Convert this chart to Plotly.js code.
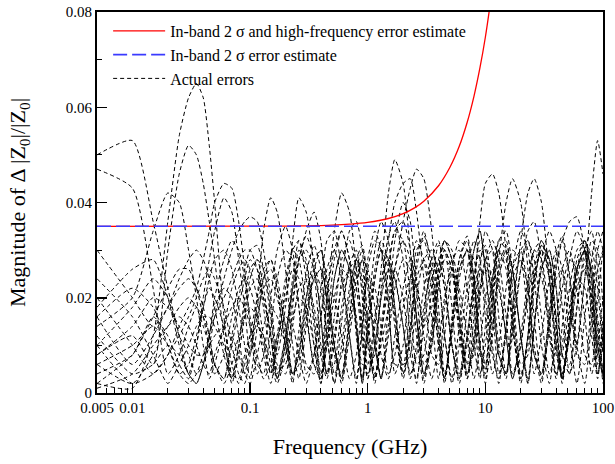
<!DOCTYPE html>
<html>
<head>
<meta charset="utf-8">
<script src="https://cdn.plot.ly/plotly-3.0.1.min.js"></script>
<style>html,body{margin:0;padding:0;background:#fff;}#chart{width:615px;height:464px;}</style>
</head>
<body>
<div id="chart"></div>
<script>
// Frequency grid (GHz) shared by the "actual error" curves
const freqGHz = [0.005,0.01,0.015,0.02,0.025,0.03,0.035,0.04,0.045,0.05,0.06,0.07,0.08,0.09,
  0.1,0.115,0.13,0.15,0.17,0.2,0.23,0.26,0.3,0.35,0.4,0.45,0.52,0.6,0.7,0.8,0.9,1.0,
  1.15,1.3,1.5,1.7,2.0,2.3,2.6,3.0,3.5,4.0,4.5,5.2,6.0,7.0,8.0,9.0,10,
  11.5,13,15,17,20,23,26,30,35,40,45,52,60,70,80,90,100];

// Actual errors (magnitude of delta|Z0|/|Z0|)
const err01 = [.050,.053,.036,.022,.012,.004,.010,.018,.024,.028,.030,.026,.018,.010,
  .003,.014,.024,.028,.022,.010,.002,.013,.025,.031,.026,.012,.002,.015,.027,.030,.020,.006,
  .008,.022,.033,.036,.028,.012,.002,.016,.028,.032,.024,.010,.003,.018,.030,.034,.026,
  .010,.002,.014,.026,.030,.022,.008,.004,.017,.029,.033,.025,.010,.002,.015,.026,.030];
const err02 = [.047,.043,.022,.004,.008,.014,.018,.016,.012,.006,.003,.012,.020,.026,
  .030,.031,.026,.016,.005,.006,.018,.028,.033,.028,.016,.004,.010,.024,.034,.036,.030,.014,
  .003,.012,.026,.034,.032,.020,.006,.008,.022,.031,.030,.018,.004,.010,.024,.032,.030,
  .018,.004,.012,.026,.034,.030,.016,.003,.014,.027,.032,.024,.008,.006,.020,.030,.034];
const err03 = [.002,.001,.012,.036,.054,.062,.065,.062,.052,.040,.016,.003,.010,.020,
  .026,.028,.022,.012,.003,.010,.022,.030,.027,.014,.003,.014,.028,.034,.028,.012,.002,.016,
  .030,.036,.032,.018,.004,.012,.026,.033,.028,.014,.003,.014,.028,.033,.024,.010,.004,
  .018,.030,.032,.022,.006,.008,.022,.031,.028,.014,.002,.014,.026,.030,.020,.006,.012];
const err04 = [.008,.012,.006,.030,.046,.052,.050,.044,.036,.028,.012,.002,.008,.016,
  .022,.024,.020,.012,.004,.012,.024,.032,.028,.016,.004,.010,.024,.030,.026,.014,.003,.014,
  .026,.032,.028,.016,.004,.014,.028,.034,.026,.012,.002,.014,.026,.030,.022,.008,.006,
  .020,.030,.028,.016,.003,.012,.024,.030,.024,.010,.003,.016,.028,.032,.024,.008,.004];
const err05 = [.014,.020,.034,.042,.040,.030,.020,.010,.003,.006,.014,.022,.026,.028,
  .026,.020,.012,.004,.010,.022,.030,.032,.024,.010,.002,.012,.024,.030,.026,.014,.002,.012,
  .024,.030,.026,.014,.003,.012,.024,.028,.022,.010,.003,.016,.028,.032,.024,.010,.002,
  .014,.026,.031,.026,.012,.002,.014,.026,.030,.022,.008,.004,.018,.030,.034,.026,.010];
const err06 = [.020,.010,.004,.008,.014,.018,.022,.028,.034,.040,.044,.043,.036,.026,
  .014,.004,.008,.020,.030,.035,.030,.018,.004,.008,.022,.032,.034,.026,.012,.002,.014,.028,
  .034,.030,.018,.004,.010,.024,.032,.028,.016,.003,.012,.026,.032,.030,.018,.004,.010,
  .024,.032,.030,.018,.004,.010,.024,.031,.028,.016,.003,.012,.024,.030,.026,.012,.002];
const err07 = [.004,.008,.016,.012,.006,.003,.010,.020,.028,.034,.041,.038,.028,.018,
  .008,.020,.034,.041,.038,.026,.010,.003,.014,.026,.030,.024,.010,.003,.016,.028,.031,.024,
  .010,.003,.018,.032,.040,.036,.022,.006,.010,.024,.030,.026,.012,.003,.016,.028,.031,
  .022,.008,.004,.018,.030,.032,.024,.010,.002,.014,.026,.030,.022,.008,.006,.020,.030];
const err08 = [.010,.018,.024,.020,.012,.008,.004,.006,.010,.016,.024,.030,.034,.036,
  .037,.036,.030,.020,.008,.018,.032,.041,.038,.026,.010,.004,.016,.028,.032,.026,.012,.003,
  .014,.026,.042,.049,.044,.030,.012,.002,.012,.026,.032,.028,.016,.004,.012,.026,.034,
  .030,.016,.004,.012,.026,.034,.036,.028,.012,.003,.014,.028,.034,.030,.018,.004,.010];
const err09 = [.016,.006,.012,.018,.022,.024,.022,.018,.012,.006,.003,.010,.018,.024,
  .028,.026,.020,.012,.003,.010,.020,.028,.034,.038,.032,.018,.004,.008,.020,.028,.026,.016,
  .004,.010,.018,.026,.036,.043,.047,.045,.034,.018,.004,.012,.024,.030,.028,.018,.005,
  .022,.032,.034,.026,.012,.002,.014,.028,.034,.030,.018,.004,.010,.024,.032,.030,.018];
const err10 = [.006,.002,.008,.014,.018,.020,.018,.014,.010,.004,.008,.016,.022,.024,
  .022,.016,.008,.002,.010,.020,.026,.024,.016,.006,.003,.020,.034,.042,.038,.026,.014,.004,
  .010,.020,.032,.040,.044,.045,.038,.024,.008,.006,.018,.028,.030,.022,.010,.003,.014,
  .024,.030,.026,.014,.002,.012,.026,.032,.028,.014,.003,.014,.026,.030,.022,.008,.014];
const err11 = [.012,.004,.006,.010,.008,.004,.002,.006,.012,.018,.022,.020,.012,.004,
  .010,.018,.024,.026,.022,.014,.004,.008,.018,.024,.026,.020,.010,.002,.012,.022,.028,.026,
  .018,.008,.003,.012,.022,.028,.024,.014,.018,.028,.032,.028,.014,.006,.022,.036,.044,
  .046,.042,.030,.014,.003,.012,.024,.030,.026,.014,.004,.012,.022,.026,.020,.010,.004];
const err12 = [.002,.008,.016,.022,.026,.026,.022,.016,.010,.006,.002,.006,.012,.016,
  .018,.016,.010,.004,.012,.024,.030,.028,.018,.006,.008,.020,.030,.034,.028,.014,.003,.012,
  .024,.030,.028,.018,.006,.008,.020,.028,.030,.024,.012,.002,.010,.022,.030,.034,.026,
  .014,.028,.040,.045,.040,.026,.008,.004,.016,.024,.026,.018,.010,.024,.042,.053,.046];
const err13 = [.024,.016,.008,.002,.006,.010,.014,.016,.016,.014,.010,.004,.003,.008,
  .012,.014,.012,.006,.002,.008,.016,.020,.018,.010,.002,.010,.020,.026,.024,.016,.006,.006,
  .016,.024,.028,.024,.014,.004,.008,.018,.026,.028,.022,.010,.002,.012,.024,.030,.028,
  .020,.008,.004,.016,.032,.042,.045,.040,.024,.008,.004,.016,.026,.030,.026,.014,.004];
const err14 = [.008,.014,.020,.018,.014,.010,.008,.008,.010,.012,.014,.012,.008,.004,
  .002,.008,.014,.018,.016,.010,.003,.010,.020,.026,.022,.012,.002,.010,.022,.028,.024,.012,
  .002,.012,.022,.026,.020,.008,.003,.014,.024,.028,.022,.010,.003,.012,.022,.026,.020,
  .008,.003,.014,.024,.028,.022,.010,.002,.014,.026,.032,.036,.037,.030,.016,.004,.012];
const err15 = [.018,.026,.028,.020,.010,.004,.002,.006,.012,.020,.028,.032,.030,.024,
  .016,.006,.004,.014,.024,.030,.028,.018,.006,.004,.016,.026,.030,.024,.012,.003,.014,.026,
  .032,.030,.020,.006,.006,.020,.030,.032,.024,.010,.003,.014,.026,.030,.024,.010,.003,
  .012,.024,.030,.026,.012,.003,.014,.026,.030,.022,.008,.006,.018,.028,.030,.022,.008];
const err16 = [.030,.020,.014,.018,.024,.028,.030,.028,.024,.018,.008,.003,.010,.018,
  .024,.028,.026,.018,.006,.004,.014,.022,.024,.018,.008,.003,.012,.022,.026,.022,.010,.003,
  .010,.020,.026,.024,.014,.003,.010,.022,.028,.024,.012,.003,.014,.026,.032,.028,.016,
  .004,.010,.022,.030,.028,.016,.004,.012,.024,.030,.026,.012,.002,.016,.028,.034,.030];
const err17 = [.001,.004,.010,.014,.016,.014,.010,.006,.004,.008,.014,.018,.020,.018,
  .014,.008,.003,.006,.012,.016,.014,.008,.002,.008,.016,.022,.020,.012,.003,.008,.018,.024,
  .022,.014,.004,.008,.018,.024,.022,.012,.003,.010,.020,.026,.022,.012,.003,.010,.020,
  .026,.022,.012,.003,.010,.020,.026,.024,.014,.004,.008,.018,.024,.022,.012,.003,.016];
const err18 = [.010,.002,.004,.008,.012,.016,.020,.024,.026,.024,.018,.010,.004,.002,
  .008,.016,.022,.024,.020,.012,.004,.006,.016,.024,.026,.020,.008,.004,.016,.026,.030,.024,
  .012,.003,.014,.026,.032,.028,.016,.004,.010,.022,.028,.026,.016,.004,.010,.022,.028,
  .030,.024,.012,.003,.012,.024,.030,.028,.016,.004,.010,.022,.030,.032,.024,.010,.003];
const err19 = [.006,.010,.014,.010,.004,.002,.004,.008,.012,.016,.020,.024,.028,.030,
  .030,.026,.018,.008,.003,.012,.022,.028,.030,.026,.016,.004,.006,.018,.026,.028,.022,.010,
  .003,.014,.026,.034,.036,.030,.016,.003,.014,.026,.032,.030,.020,.006,.008,.020,.028,
  .032,.028,.016,.004,.010,.022,.030,.032,.024,.010,.003,.014,.026,.032,.028,.016,.004];
const err20 = [.016,.022,.018,.010,.004,.006,.012,.018,.022,.020,.014,.006,.002,.006,
  .012,.020,.026,.028,.024,.014,.004,.008,.020,.028,.030,.022,.010,.003,.014,.024,.028,.022,
  .010,.003,.012,.022,.028,.026,.016,.004,.012,.024,.030,.026,.014,.003,.010,.022,.026,
  .022,.010,.003,.014,.026,.032,.028,.016,.004,.010,.022,.028,.026,.016,.004,.010,.020];

// In-band 2 sigma + high-frequency estimate
const redFreq = [0.005,0.1,0.2,0.3,0.5,0.7,1,1.5,2,2.5,3,4,5,6,7,8,9,10,11];
const redErr  = [0.035,0.03502,0.03506,0.03511,0.03526,0.03546,0.03583,0.03664,0.03766,0.03887,
  0.04026,0.04352,0.0474,0.0518,0.0568,0.0623,0.0683,0.0747,0.0817];
// In-band 2 sigma estimate
const blueFreq = [0.005,100];
const blueErr  = [0.035,0.035];

const xTickVals = [0.005,0.01,0.1,1,10,100];
const xTickText = ['0.005','0.01','0.1','1','10','100'];
const yTickVals = [0,0.02,0.04,0.06,0.08];
const yTickText = ['0','0.02','0.04','0.06','0.08'];

const actual = [err01,err02,err03,err04,err05,err06,err07,err08,err09,err10,
  err11,err12,err13,err14,err15,err16,err17,err18,err19,err20];

const traces = [];
actual.forEach((ys, i) => {
  traces.push({
    x: freqGHz, y: ys, type: 'scatter', mode: 'lines',
    name: 'Actual errors', legendgroup: 'actual', showlegend: i === 0, legendrank: 3,
    line: {color: '#000', width: 1, dash: '4px,3px', shape: 'spline', smoothing: 0.6},
    hoverinfo: 'skip'
  });
});
traces.push({
  x: redFreq, y: redErr, type: 'scatter', mode: 'lines',
  name: 'In-band 2 σ and high-frequency error estimate', legendrank: 1,
  line: {color: '#ff0000', width: 1.3, shape: 'spline'}
});
traces.push({
  x: blueFreq, y: blueErr, type: 'scatter', mode: 'lines',
  name: 'In-band 2 σ error estimate', legendrank: 2,
  line: {color: '#3a3aff', width: 1.6, dash: '14px,5px'}
});

const minorX = [];
[0.001,0.01,0.1,1,10].forEach(d => { for (let k = 2; k <= 9; k++) { const v = d * k; if (v > 0.005 && v < 100) minorX.push(v); } });

const serif = 'Liberation Serif';
const layout = {
  width: 615, height: 464,
  margin: {l: 97, r: 12, t: 12, b: 71, pad: 0},
  paper_bgcolor: '#fff', plot_bgcolor: '#fff',
  font: {family: serif, size: 15, color: '#000'},
  showlegend: true,
  legend: {x: 0.022, y: 0.995, xanchor: 'left', yanchor: 'top', bgcolor: 'rgba(0,0,0,0)',
    font: {family: serif, size: 16, color: '#000'}, tracegroupgap: 0, itemwidth: 52},
  xaxis: {
    type: 'log', range: [Math.log10(0.005), 2],
    tickmode: 'array', tickvals: xTickVals, ticktext: xTickText,
    ticks: 'inside', ticklen: 10, tickwidth: 1.5, tickcolor: '#000',
    minor: {tickmode: 'array', tickvals: minorX, ticks: 'inside', ticklen: 5, tickwidth: 1, tickcolor: '#000'},
    showline: true, linewidth: 2, linecolor: '#000', mirror: true,
    showgrid: false, zeroline: false,
    tickfont: {family: serif, size: 15, color: '#000'},
    title: {text: 'Frequency (GHz)', font: {family: serif, size: 22, color: '#000'}, standoff: 24}
  },
  yaxis: {
    range: [0, 0.08],
    tickmode: 'array', tickvals: yTickVals, ticktext: yTickText,
    ticks: 'inside', ticklen: 10, tickwidth: 1.5, tickcolor: '#000',
    minor: {dtick: 0.01, ticks: 'inside', ticklen: 5, tickwidth: 1, tickcolor: '#000'},
    showline: true, linewidth: 2, linecolor: '#000', mirror: true,
    showgrid: false, zeroline: false,
    tickfont: {family: serif, size: 15, color: '#000'},
    title: {text: 'Magnitude of Δ |Z<sub>0</sub>|/|Z<sub>0</sub>|', font: {family: serif, size: 22, color: '#000'}, standoff: 34}
  }
};
Plotly.newPlot('chart', traces, layout, {staticPlot: true, displayModeBar: false});
</script>
</body>
</html>
